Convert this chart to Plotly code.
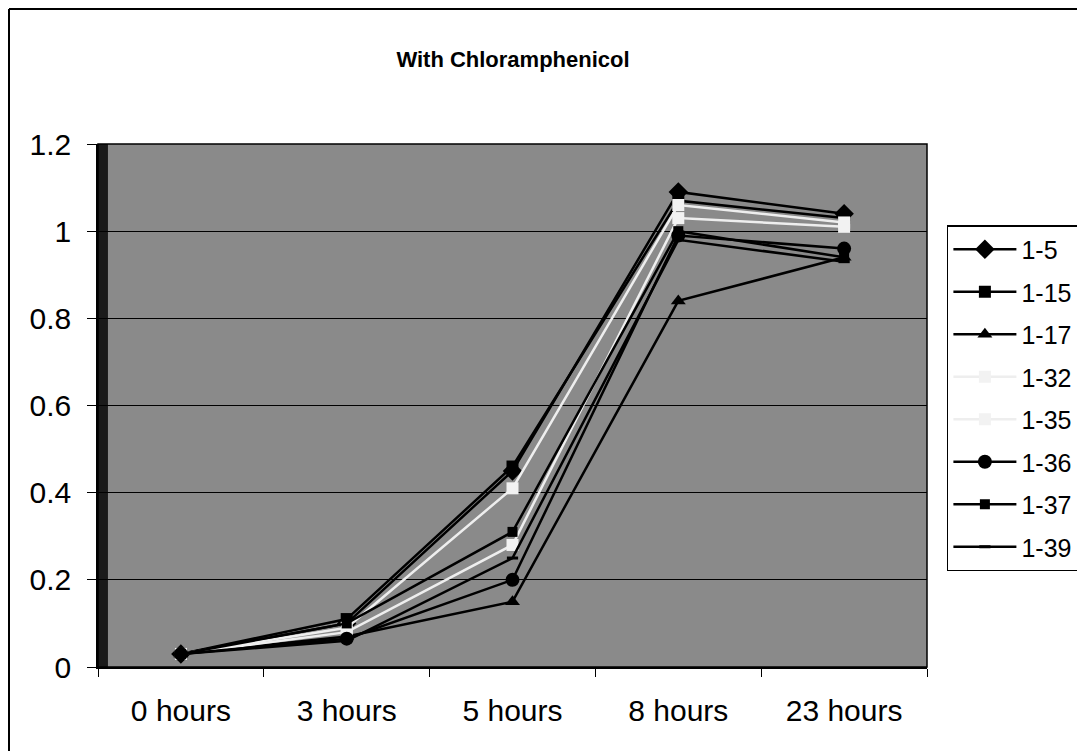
import plotly.graph_objects as go

categories = ["0 hours", "3 hours", "5 hours", "8 hours", "23 hours"]
series_names = ["1-5", "1-15", "1-17", "1-32", "1-35", "1-36", "1-37", "1-39"]
v_1_5 = [0.03, 0.10, 0.45, 1.09, 1.04]
v_1_15 = [0.03, 0.11, 0.46, 1.07, 1.03]
v_1_17 = [0.03, 0.07, 0.15, 0.84, 0.94]
v_1_32 = [0.03, 0.09, 0.41, 1.06, 1.02]
v_1_35 = [0.03, 0.08, 0.28, 1.03, 1.01]
v_1_36 = [0.03, 0.065, 0.20, 0.99, 0.96]
v_1_37 = [0.03, 0.10, 0.31, 1.00, 0.94]
v_1_39 = [0.03, 0.06, 0.25, 0.98, 0.93]
values = [v_1_5, v_1_15, v_1_17, v_1_32, v_1_35, v_1_36, v_1_37, v_1_39]

styles = [
    dict(symbol="diamond", size=15, color="black", lc="black"),
    dict(symbol="square", size=12, color="black", lc="black"),
    dict(symbol="triangle-up", size=13, color="black", lc="black"),
    dict(symbol="square", size=12, color="#f2f2f2", lc="#eeeeee"),
    dict(symbol="square", size=12, color="#f2f2f2", lc="#eeeeee"),
    dict(symbol="circle", size=14, color="black", lc="black"),
    dict(symbol="square", size=10, color="black", lc="black"),
    dict(symbol="line-ew-open", size=8, color="black", lc="black"),
]

fig = go.Figure()
for name, vals, st in zip(series_names, values, styles):
    marker = dict(symbol=st["symbol"], size=st["size"], color=st["color"])
    if st["symbol"].startswith("line"):
        marker["line"] = dict(width=3, color="black")
    fig.add_trace(go.Scatter(
        x=categories, y=vals, name=name, mode="lines+markers",
        line=dict(color=st["lc"], width=2.5),
        marker=marker, legendgroup=name,
    ))

# page body has an 8px margin, so the figure is offset by 8px
L, T, PW, PH = 90, 136, 829, 523
W, H = 1085, 743

fig.update_layout(
    width=W, height=H,
    paper_bgcolor="white", plot_bgcolor="#8a8a8a",
    margin=dict(l=L, r=W - L - PW, t=T, b=H - T - PH),
    font=dict(family="Liberation Sans, Arial, sans-serif", size=30, color="black"),
    title=dict(text="<b>With Chloramphenicol</b>", x=505 / W, xanchor="center",
               y=1 - 51 / H, yanchor="middle", font=dict(size=22)),
    showlegend=True,
    legend=dict(x=1.024, xanchor="left", y=0.845, yanchor="top",
                bgcolor="white", bordercolor="black", borderwidth=1.5,
                font=dict(size=25), tracegroupgap=7, itemwidth=63),
    xaxis=dict(type="category", range=[-0.5, 4.5], tickson="boundaries", ticks="outside",
               ticklen=8, tickcolor="black", showgrid=False, showline=True,
               linecolor="black", linewidth=1.5, mirror=False, ticklabelstandoff=16),
    yaxis=dict(range=[0, 1.2], dtick=0.2, ticks="outside", ticklen=9, tickcolor="black",
               showgrid=True, gridcolor="black", gridwidth=1, showline=True,
               linecolor="black", linewidth=1.5, zeroline=False, ticklabelstandoff=10),
    shapes=[
        dict(type="rect", xref="paper", yref="paper", x0=0, x1=0.012, y0=0, y1=1,
             fillcolor="#1a1a1a", line=dict(width=0), layer="below"),
        dict(type="rect", xref="paper", yref="paper", x0=0, x1=1, y0=0, y1=1,
             fillcolor="rgba(0,0,0,0)", line=dict(color="black", width=1.5)),
        dict(type="line", xref="paper", yref="paper", x0=(1 - L) / PW, x1=2,
             y0=1 + (T - 1) / PH, y1=1 + (T - 1) / PH, line=dict(color="black", width=2)),
        dict(type="line", xref="paper", yref="paper", x0=(1 - L) / PW, x1=(1 - L) / PW,
             y0=-2, y1=1 + (T - 1) / PH, line=dict(color="black", width=2)),
    ],
)

fig.write_html("out.html")
